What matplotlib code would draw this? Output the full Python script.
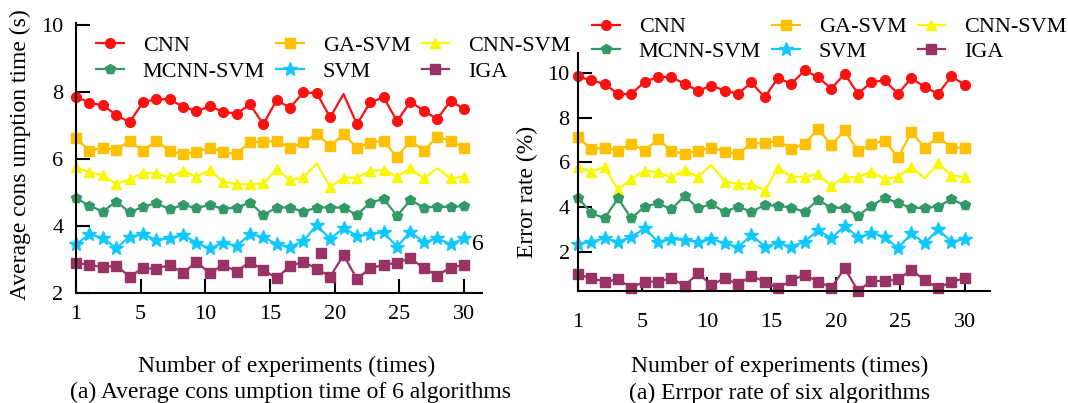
import numpy as np
import matplotlib
matplotlib.use('Agg')
import matplotlib.pyplot as plt

plt.rcParams['font.family'] = 'Liberation Serif'

# experiment index (1..30) and tick labels
experiments = np.arange(1, 31)
tick_labels = ['1', '5', '10', '15', '20', '25', '30']

names = ['CNN', 'GA-SVM', 'CNN-SVM', 'MCNN-SVM', 'SVM', 'IGA']

# (a) average consumption time (s)
time_cnn = [7.86, 7.68, 7.60, 7.32, 7.09, 7.69, 7.79, 7.78, 7.56, 7.43,
            7.57, 7.41, 7.35, 7.63, 7.04, 7.76, 7.53, 7.99, 7.96, 7.24,
            7.94, 7.04, 7.69, 7.84, 7.13, 7.71, 7.44, 7.19, 7.74, 7.49]
time_ga_svm = [6.62, 6.24, 6.34, 6.27, 6.54, 6.24, 6.54, 6.24, 6.14, 6.21,
               6.34, 6.21, 6.15, 6.51, 6.50, 6.55, 6.32, 6.50, 6.75, 6.39,
               6.74, 6.34, 6.49, 6.54, 6.05, 6.55, 6.25, 6.65, 6.55, 6.34]
time_cnn_svm = [5.75, 5.60, 5.52, 5.25, 5.39, 5.59, 5.57, 5.45, 5.64, 5.47,
                5.67, 5.32, 5.25, 5.24, 5.27, 5.69, 5.37, 5.45, 5.87, 5.16,
                5.44, 5.44, 5.64, 5.67, 5.47, 5.72, 5.42, 5.72, 5.42, 5.47]
time_mcnn_svm = [4.83, 4.61, 4.43, 4.73, 4.41, 4.57, 4.68, 4.50, 4.63, 4.53,
                 4.63, 4.51, 4.55, 4.70, 4.33, 4.55, 4.55, 4.43, 4.55, 4.55,
                 4.55, 4.33, 4.70, 4.81, 4.30, 4.78, 4.55, 4.58, 4.56, 4.60]
time_svm = [3.45, 3.75, 3.65, 3.33, 3.68, 3.75, 3.58, 3.63, 3.73, 3.50,
            3.33, 3.50, 3.40, 3.75, 3.68, 3.45, 3.38, 3.55, 4.03, 3.60,
            3.95, 3.70, 3.76, 3.81, 3.38, 3.83, 3.51, 3.63, 3.45, 3.63]
time_iga = [2.90, 2.84, 2.77, 2.82, 2.49, 2.74, 2.72, 2.84, 2.59, 2.93,
            2.59, 2.84, 2.64, 2.93, 2.69, 2.44, 2.81, 2.93, 2.72, 2.49,
            3.13, 2.42, 2.74, 2.84, 2.90, 3.04, 2.74, 2.52, 2.76, 2.84]
# stray IGA marker in the original figure
stray_x = [19.3]
stray_y = [3.20]

# (b) error rate (%)
err_cnn = [9.85, 9.67, 9.52, 9.06, 9.07, 9.61, 9.83, 9.82, 9.52, 9.21,
           9.44, 9.22, 9.07, 9.58, 8.92, 9.78, 9.52, 10.12, 9.82, 9.30,
           9.97, 9.07, 9.60, 9.67, 9.07, 9.78, 9.37, 9.07, 9.85, 9.48]
err_ga_svm = [7.13, 6.59, 6.66, 6.53, 6.83, 6.53, 7.04, 6.53, 6.37, 6.53,
              6.66, 6.48, 6.37, 6.86, 6.86, 6.98, 6.61, 6.83, 7.50, 6.78,
              7.43, 6.52, 6.82, 6.98, 6.22, 7.35, 6.66, 7.13, 6.66, 6.66]
err_cnn_svm = [5.78, 5.59, 5.78, 4.77, 5.26, 5.62, 5.56, 5.34, 5.64, 5.36,
               5.89, 5.14, 5.04, 5.04, 4.74, 5.74, 5.36, 5.36, 5.47, 4.96,
               5.34, 5.34, 5.59, 5.26, 5.36, 5.81, 5.29, 5.96, 5.41, 5.34]
err_mcnn_svm = [4.42, 3.72, 3.50, 4.39, 3.50, 4.02, 4.17, 3.90, 4.50, 3.95,
                4.13, 3.79, 4.02, 3.79, 4.09, 4.06, 3.97, 3.79, 4.32, 3.97,
                3.97, 3.61, 4.05, 4.42, 4.17, 3.97, 3.95, 4.02, 4.35, 4.09]
err_svm = [2.35, 2.45, 2.60, 2.45, 2.65, 3.05, 2.45, 2.57, 2.52, 2.45,
           2.57, 2.38, 2.20, 2.75, 2.23, 2.38, 2.23, 2.45, 2.97, 2.60,
           3.15, 2.65, 2.82, 2.67, 2.15, 2.82, 2.38, 3.00, 2.45, 2.57]
err_iga = [0.99, 0.81, 0.66, 0.76, 0.39, 0.66, 0.66, 0.81, 0.48, 1.03,
           0.51, 0.81, 0.54, 0.91, 0.66, 0.36, 0.73, 0.96, 0.66, 0.39,
           1.26, 0.24, 0.69, 0.69, 0.76, 1.18, 0.73, 0.36, 0.66, 0.81]

colors = ['#ff1010', '#ffc000', '#f8f800', '#339966', '#10c8ff', '#993366']
markers = ['o', 's', '^', 'p', '*', 's']
msizes = [7, 7, 7, 7, 10, 7]

# points drawn without marker in the original
skip_left = {0: [20], 2: [18, 27]}
skip_right = {2: [10, 26]}

fig = plt.figure(figsize=(10.68, 4.03), dpi=100)
ax1 = fig.add_axes([0.0712, 0.2730, 0.3801, 0.6700])
ax2 = fig.add_axes([0.5412, 0.2779, 0.3858, 0.5906])


def draw(ax, series, skips):
    lines = []
    for i, vals in enumerate(series):
        keep = [k for k in range(len(vals)) if k not in skips.get(i, [])]
        ln, = ax.plot(experiments, vals, color=colors[i], marker=markers[i],
                      markersize=msizes[i], lw=1.6, markevery=keep,
                      clip_on=False, label=names[i])
        lines.append(ln)
    ax.spines['top'].set_visible(False)
    ax.spines['right'].set_visible(False)
    for s in ['left', 'bottom']:
        ax.spines[s].set_linewidth(1.5)
    ax.set_xticks(np.linspace(1, 30, 7))
    ax.set_xticklabels(tick_labels)
    ax.set_yticks([2, 4, 6, 8, 10])
    ax.tick_params(direction='in', length=10, width=1.5, labelsize=16)
    return lines


lines1 = draw(ax1, [time_cnn, time_ga_svm, time_cnn_svm, time_mcnn_svm, time_svm, time_iga], skip_left)
ax1.plot(stray_x, stray_y, ls='none', marker='s', markersize=7, color=colors[5])
ax1.set_xlim(1, 31.35)
ax1.set_ylim(2, 10.06)
ax1.tick_params(axis='x', pad=9)
ax1.tick_params(axis='y', pad=9)

lines2 = draw(ax2, [err_cnn, err_ga_svm, err_cnn_svm, err_mcnn_svm, err_svm, err_iga], skip_right)
ax2.set_xlim(1, 31.9)
ax2.set_ylim(0.24, 10.9)
ax2.tick_params(axis='x', pad=16)
ax2.tick_params(axis='y', pad=6)

order = [0, 3, 1, 4, 2, 5]
leg_kw = dict(ncol=3, frameon=False, fontsize=16, loc='upper left',
              borderpad=0, borderaxespad=0, handlelength=1.25,
              handletextpad=0.85, columnspacing=0.5,
              bbox_transform=fig.transFigure)
fig.legend([lines1[i] for i in order], [names[i] for i in order],
           bbox_to_anchor=(96 / 1068, 0.913), labelspacing=0.27, **leg_kw)
fig.legend([lines2[i] for i in order], [names[i] for i in order],
           bbox_to_anchor=(592 / 1068, 0.958), labelspacing=0.18, **leg_kw)

fig.text(20 / 1068, 1 - 155 / 403, 'Average cons umption time (s)', rotation=90,
         ha='center', va='center', fontsize=17)
fig.text(527 / 1068, 1 - 192 / 403, 'Error rate (%)', rotation=90,
         ha='center', va='center', fontsize=17)
fig.text(478 / 1068, 1 - 245 / 403, '6', ha='center', va='center', fontsize=17)

fig.text(287 / 1068, 1 - 366 / 403, 'Number of experiments (times)',
         ha='center', va='center', fontsize=17)
fig.text(291 / 1068, 1 - 392 / 403, '(a) Average cons umption time of 6 algorithms',
         ha='center', va='center', fontsize=17)
fig.text(780 / 1068, 1 - 366 / 403, 'Number of experiments (times)',
         ha='center', va='center', fontsize=17)
fig.text(780 / 1068, 1 - 393 / 403, '(a) Errpor rate of six algorithms',
         ha='center', va='center', fontsize=17)

fig.savefig('out.png', dpi=100)
